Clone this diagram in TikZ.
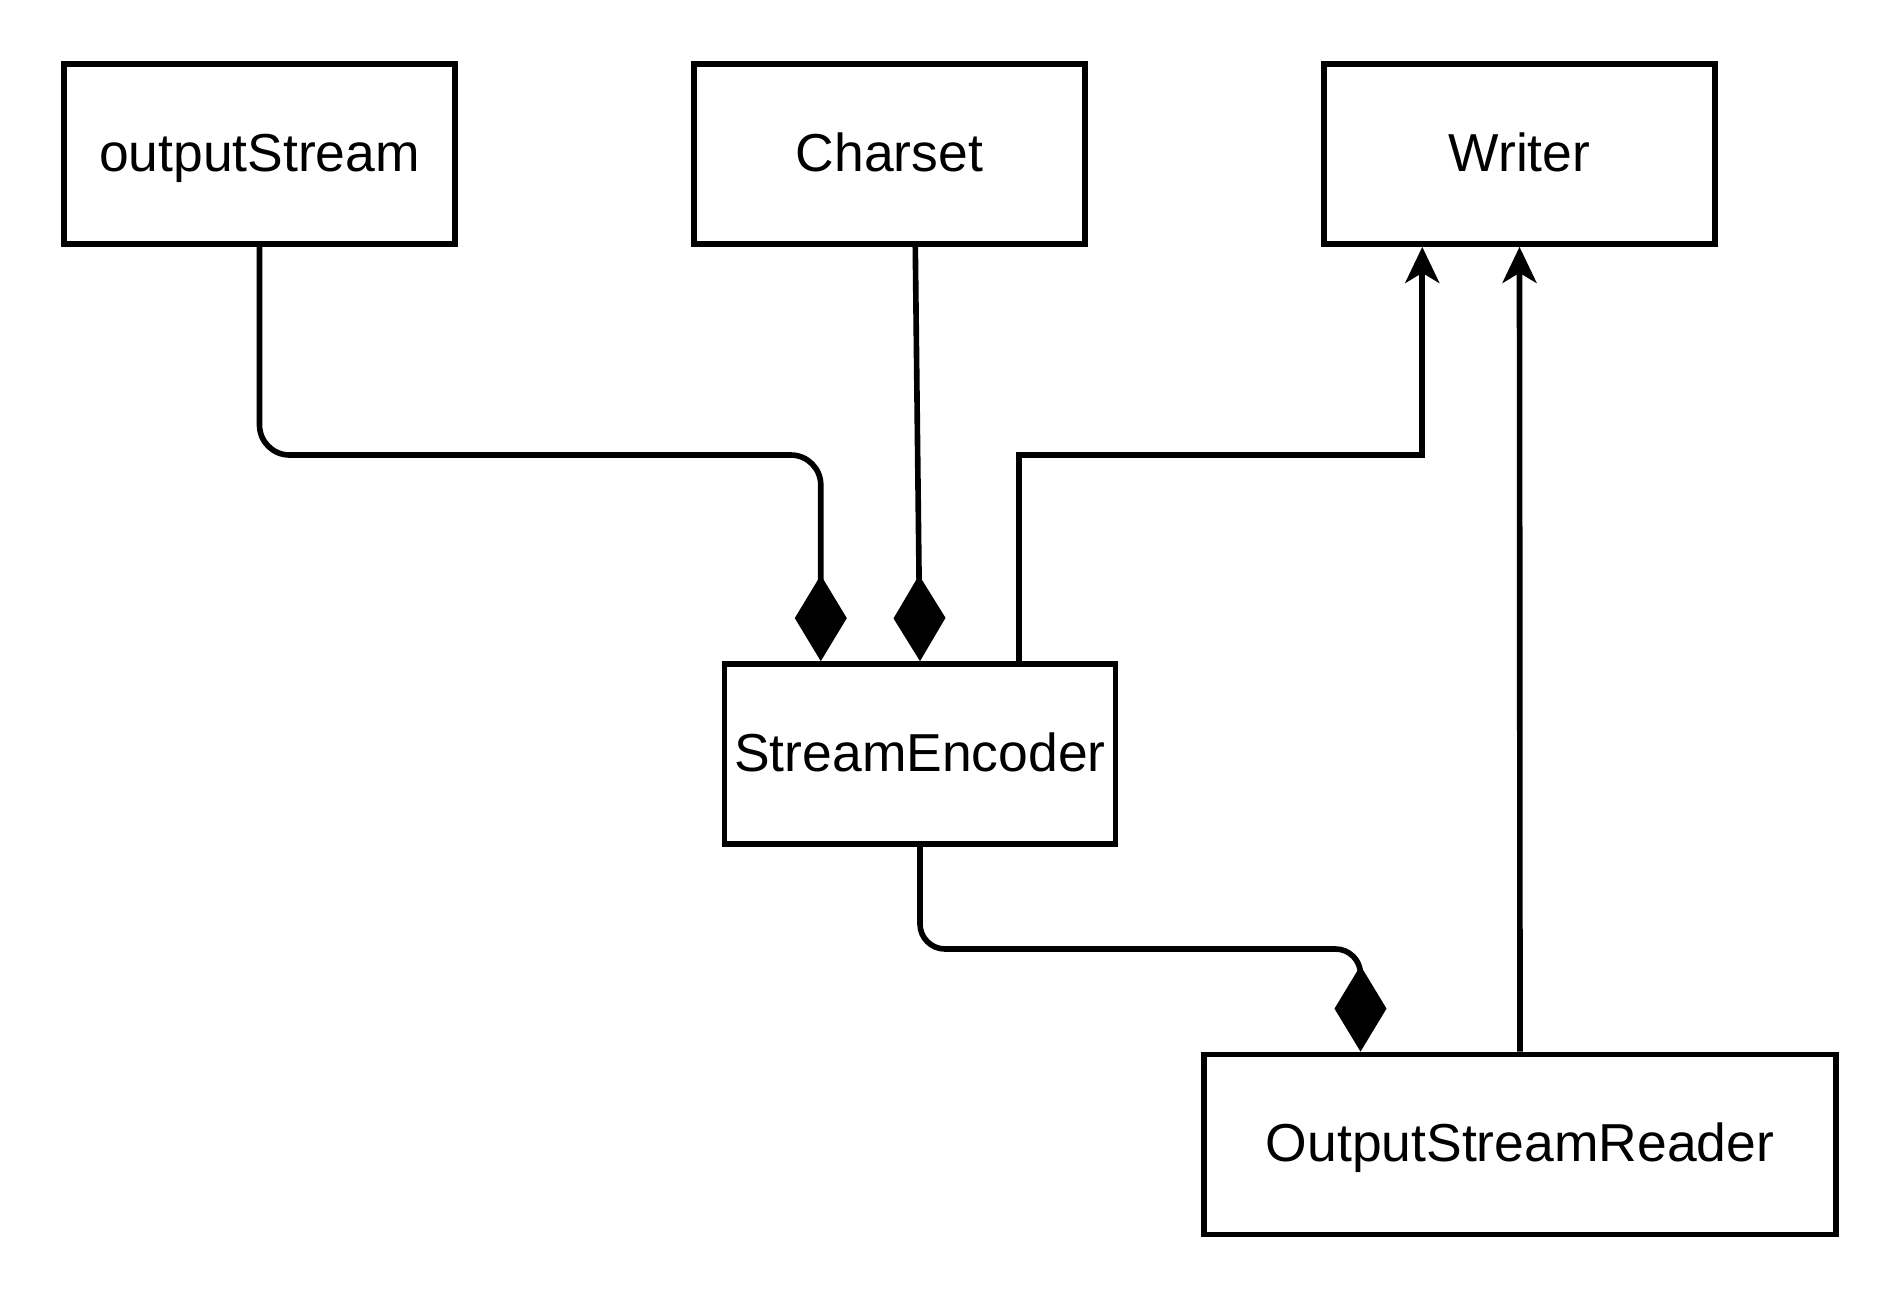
\documentclass[tikz,border=0pt]{standalone}
\usepackage{fontspec}
\setmainfont{Liberation Sans}
\usetikzlibrary{arrows.meta,calc}
\tikzset{
  classbox/.style={draw,line width=1.6pt,inner xsep=0pt,text height=12.7pt,text depth=3pt,minimum width=3.91cm,minimum height=1.8cm,font=\fontsize{15.2}{18}\selectfont},
  compose/.style={line width=1.6pt,-{Diamond[length=0.86cm,width=0.52cm]}},
  inherit/.style={line width=1.6pt,-{Stealth[length=0.36cm,width=0.34cm,inset=0.1cm]}}
}

\begin{document}
\begin{tikzpicture}[x=0.01cm,y=-0.01cm]
  \useasboundingbox (0,0) rectangle (1896,1296);
  \node[classbox] (outs) at (259.5,154) {outputStream};
  \node[classbox] (chs) at (889.5,154) {Charset};
  \node[classbox] (wrt) at (1519.5,154) {Writer};
  \node[classbox] (enc) at (920,754) {StreamEncoder};
  \node[classbox,minimum width=6.32cm] (osr) at (1520,1144.5) {OutputStreamReader};
  \coordinate (encA) at ($(enc.north west)!0.25!(enc.north east)$);
  \coordinate (encB) at ($(enc.north west)!0.75!(enc.north east)$);
  \coordinate (chsA) at ($(chs.south west)!0.565!(chs.south east)$);
  \coordinate (wrtA) at ($(wrt.south west)!0.255!(wrt.south east)$);
  \coordinate (osrA) at ($(osr.north west)!0.25!(osr.north east)$);
  \coordinate (topbus) at (0,455);
  \coordinate (lowbus) at (0,949);
  \draw[compose,rounded corners=0.3cm] (outs.south) |- (encA |- topbus) -- (encA);
  \draw[compose] (chsA) -- (enc.north);
  \draw[inherit] (encB) |- (wrtA |- topbus) -- (wrtA);
  \draw[inherit] (osr.north) -- (wrt.south);
  \draw[compose,rounded corners=0.25cm] (enc.south) |- (osrA |- lowbus) -- (osrA);
\end{tikzpicture}
\end{document}
